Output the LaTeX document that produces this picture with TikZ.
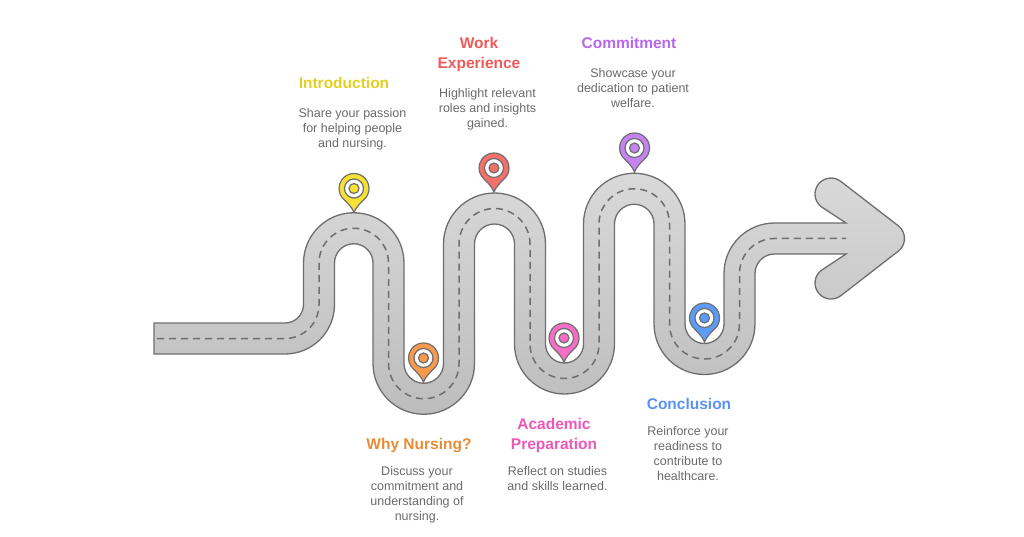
\documentclass[tikz,border=0pt]{standalone}
\usepackage{fontspec}
\setmainfont{Liberation Sans}
\definecolor{pinline}{HTML}{6E6E6E}
\definecolor{bodygray}{HTML}{6A6A6A}
\definecolor{introcol}{HTML}{E3CF22}
\definecolor{whycol}{HTML}{E88B35}
\definecolor{workcol}{HTML}{EE5A5A}
\definecolor{academiccol}{HTML}{EC58B6}
\definecolor{commitcol}{HTML}{B767EE}
\definecolor{concludecol}{HTML}{5A92F2}
\definecolor{intropin}{HTML}{F7E234}
\definecolor{whypin}{HTML}{F79A4E}
\definecolor{workpin}{HTML}{F5706A}
\definecolor{academicpin}{HTML}{F76EC6}
\definecolor{commitpin}{HTML}{C483F0}
\definecolor{concludepin}{HTML}{5C9CF7}
\tikzset{
	titletext/.style={inner sep=0, align=center, font=\fontsize{15.5}{20}\selectfont\bfseries},
	bodytext/.style={inner sep=0, align=center, text=bodygray, font=\fontsize{12.5}{15}\selectfont},
	pinedge/.style={draw=pinline, line width=1.2pt}
}
\def\roadpin(#1,#2)#3{
	\begin{scope}[shift={(#1,#2)}]
		\draw[pinedge, fill=#3] (0,-24) .. controls (2,-18.5) and (7,-14) .. (-35:15) arc (-35:215:15) .. controls (-7,-14) and (-2,-18.5) .. (0,-24) -- cycle;
		\draw[pinedge, fill=white] (0,0) circle (9.5);
		\draw[pinedge, fill=#3] (0,0) circle (5);
	\end{scope}
}

\begin{document}
\begin{tikzpicture}[x=1pt, y=1pt]
			%%%%% START %%%%%
			\useasboundingbox (0,0) rectangle (1024,536);
			
			\draw[line width=1.3pt, draw=pinline, top color=black!15, bottom color=black!26]
				(154,213) -- (285,213) arc (270:360:18.5) -- (303.5,273) arc (180:0:50.25)
				-- (404,172.5) arc (180:360:19.75) -- (443.5,292) arc (180:0:51)
				-- (545.5,192) arc (180:360:19) -- (583.5,312) arc (180:0:50.75)
				-- (685,212) arc (180:360:19.5) -- (724,262.5) arc (180:90:50.5)
				-- (846,313) -- (821.2,329.3) arc (232.3:52.3:16)
				-- (898.3,310.2) arc (52.3:-52.3:16)
				-- (840.8,240.3) arc (-52.3:-232.3:16) -- (846,282)
				-- (774.5,282) arc (90:180:19.5) -- (755,212) arc (0:-180:50.5)
				-- (654,312) arc (0:180:19.75) -- (614.5,192) arc (0:-180:50)
				-- (514.5,292) arc (0:180:20) -- (474.5,172.5) arc (0:-180:50.75)
				-- (373,273) arc (0:180:19.25) -- (334.5,231.5) arc (0:-90:49.5)
				-- (154,182) -- cycle;
			
			\draw[line width=1.5pt, color=pinline, dash pattern=on 7pt off 5pt]
				(157,197.5) -- (285,197.5) arc (270:360:34) -- (319,273) arc (180:0:34.75)
				-- (388.5,172.5) arc (180:360:35.25) -- (459,292) arc (180:0:35.5)
				-- (530,192) arc (180:360:34.5) -- (599,312) arc (180:0:35.25)
				-- (669.5,212) arc (180:360:35) -- (739.5,262.5) arc (180:90:35)
				-- (846,297.5);
			
			\roadpin(354,347.5){intropin}
			\roadpin(423.5,178){whypin}
			\roadpin(494,368){workpin}
			\roadpin(564,198){academicpin}
			\roadpin(634.5,388){commitpin}
			\roadpin(704.5,218){concludepin}
			
			\node[titletext, text=introcol] (introtitle) at (344,453) {Introduction};
			\node[bodytext] (introbody) at (352.5,407) {Share your passion\\for helping people\\and nursing.};
			
			\node[titletext, text=whycol] (whytitle) at (419,90) {Why Nursing?};
			\node[bodytext] (whybody) at (417,41.5) {Discuss your\\commitment and\\understanding of\\nursing.};
			
			\node[titletext, text=workcol] (worktitle) at (479,482) {Work\\Experience};
			\node[bodytext] (workbody) at (487.5,427) {Highlight relevant\\roles and insights\\gained.};
			
			\node[titletext, text=academiccol] (academictitle) at (554,101) {Academic\\Preparation};
			\node[bodytext] (academicbody) at (557.5,57.5) {Reflect on studies\\and skills learned.};
			
			\node[titletext, text=commitcol] (committitle) at (629,493) {Commitment};
			\node[bodytext] (commitbody) at (633,448) {Showcase your\\dedication to patient\\welfare.};
			
			\node[titletext, text=concludecol] (concludetitle) at (689,132) {Conclusion};
			\node[bodytext] (concludebody) at (688,82) {Reinforce your\\readiness to\\contribute to\\healthcare.};
			
			%%%%% END %%%%%
\end{tikzpicture}
\end{document}
